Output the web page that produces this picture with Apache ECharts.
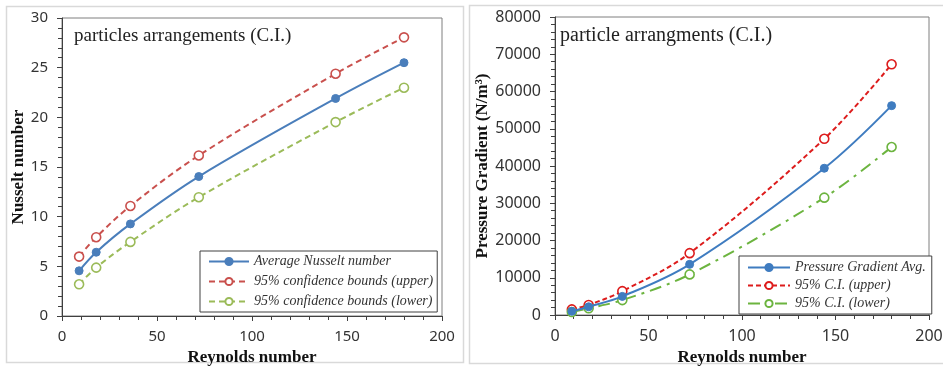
<!DOCTYPE html>
<html><head><meta charset="utf-8">
<script src="https://cdn.jsdelivr.net/npm/echarts@6/dist/echarts.min.js"></script>
<style>html,body{margin:0;padding:0;background:#fff}#c{width:943px;height:366px}</style>
</head><body><div id="c"></div>
<script>
const reynolds = [9, 18, 36, 72, 144, 180];
const nusseltAvg = [4.55, 6.42, 9.27, 14.04, 21.9, 25.5];
const nusseltUpper = [5.98, 7.93, 11.08, 16.16, 24.39, 28.05];
const nusseltLower = [3.19, 4.87, 7.46, 11.96, 19.52, 22.98];
const pressureAvg = [1000, 2200, 5000, 13600, 39400, 56200];
const pressureUpper = [1500, 2700, 6400, 16600, 47300, 67300];
const pressureLower = [800, 1800, 4000, 10900, 31500, 45100];
const leftNames = ['Average Nusselt number', '95% confidence bounds (upper)', '95% confidence bounds (lower)'];
const rightNames = ['Pressure Gradient Avg.', '95% C.I. (upper)', '95% C.I. (lower)'];

const pts = (xs, ys) => xs.map((x, i) => [x, ys[i]]);
const serif = 'Liberation Serif';
const sans = 'Noto Sans';

function xAx(gi, fs) {
  return {
    type: 'value', gridIndex: gi, min: 0, max: 200, interval: 50,
    name: 'Reynolds number', nameLocation: 'middle', nameGap: 30,
    nameTextStyle: { fontFamily: serif, fontWeight: 'bold', fontSize: 17, color: '#111' },
    axisLine: { show: true, lineStyle: { color: '#404040', width: 1 } },
    axisTick: { show: true, length: 5, lineStyle: { color: '#404040' } },
    minorTick: { show: true, splitNumber: 5, length: 4, lineStyle: { color: '#404040' } },
    splitLine: { show: false },
    axisLabel: { fontFamily: sans, fontSize: fs, color: '#333', margin: 13 }
  };
}
function yAx(gi, max, interval, name, gap, fs, margin) {
  return {
    type: 'value', gridIndex: gi, min: 0, max: max, interval: interval,
    name: name, nameLocation: 'middle', nameGap: gap,
    nameTextStyle: { fontFamily: serif, fontWeight: 'bold', fontSize: 17, color: '#111' },
    axisLine: { show: true, lineStyle: { color: '#404040', width: 1 } },
    axisTick: { show: true, length: 5, lineStyle: { color: '#404040' } },
    minorTick: { show: true, splitNumber: 5, length: 4, lineStyle: { color: '#404040' } },
    splitLine: { show: false },
    axisLabel: { fontFamily: sans, fontSize: fs, color: '#333', margin: margin, formatter: v => String(v) }
  };
}
function ser(name, gi, data, color, dash, filled, size) {
  return {
    name: name, type: 'line', xAxisIndex: gi, yAxisIndex: gi, data: data,
    smooth: 0.35, symbol: 'circle', symbolSize: size,
    lineStyle: { color: color, width: 2, type: dash },
    itemStyle: filled ? { color: color, borderColor: color, borderWidth: 1 }
                      : { color: '#fff', borderColor: color, borderWidth: 1.6 },
    z: filled ? 3 : 2
  };
}

const chart = echarts.init(document.getElementById('c'), null, { renderer: 'canvas' });
chart.setOption({
  animation: false,
  backgroundColor: '#fff',
  graphic: [
    { type: 'rect', shape: { x: 6.5, y: 6.5, width: 457, height: 356 }, style: { fill: 'none', stroke: '#d9d9d9', lineWidth: 1.5 }, z: -1 },
    { type: 'rect', shape: { x: 469.5, y: 5.5, width: 480, height: 358 }, style: { fill: 'none', stroke: '#d9d9d9', lineWidth: 1.5 }, z: -1 }
  ],
  title: [
    { text: 'particles arrangements (C.I.)', left: 74, top: 27, textStyle: { fontFamily: serif, fontWeight: 'normal', fontSize: 19, color: '#222' }, padding: 0 },
    { text: 'particle arrangments (C.I.)', left: 560, top: 26, textStyle: { fontFamily: serif, fontWeight: 'normal', fontSize: 20, color: '#222' }, padding: 0 }
  ],
  grid: [
    { left: 62, top: 18, width: 380, height: 298, show: true, borderColor: '#7f7f7f', borderWidth: 1, backgroundColor: 'transparent', containLabel: false, outerBoundsMode: 'none' },
    { left: 555, top: 17, width: 374, height: 298, show: true, borderColor: '#7f7f7f', borderWidth: 1, backgroundColor: 'transparent', containLabel: false, outerBoundsMode: 'none' }
  ],
  xAxis: [xAx(0, 15), xAx(1, 16)],
  yAxis: [yAx(0, 30, 5, 'Nusselt number', 35, 15, 14), yAx(1, 80000, 10000, 'Pressure Gradient (N/m³)', 64, 16, 14)],
  legend: [
    {
      data: leftNames, orient: 'vertical', left: 200, top: 251, padding: [3, 4, 3, 8],
      itemWidth: 40, itemHeight: 9, itemGap: 5,
      backgroundColor: '#fff', borderColor: '#404040', borderWidth: 1, borderRadius: 0,
      textStyle: { fontFamily: serif, fontStyle: 'italic', fontSize: 14, color: '#333', lineHeight: 15 }
    },
    {
      data: rightNames, orient: 'vertical', left: 739, top: 256, padding: [4, 6, 3, 8],
      itemWidth: 42, itemHeight: 9, itemGap: 3,
      backgroundColor: '#fff', borderColor: '#404040', borderWidth: 1, borderRadius: 0,
      textStyle: { fontFamily: serif, fontStyle: 'italic', fontSize: 14, color: '#333', lineHeight: 15 }
    }
  ],
  series: [
    ser(leftNames[0], 0, pts(reynolds, nusseltAvg), '#4a7ebb', 'solid', true, 8),
    ser(leftNames[1], 0, pts(reynolds, nusseltUpper), '#c9504d', [6, 4], false, 9),
    ser(leftNames[2], 0, pts(reynolds, nusseltLower), '#9bbb59', [6, 4], false, 9),
    ser(rightNames[0], 1, pts(reynolds, pressureAvg), '#3f7cc0', 'solid', true, 8),
    ser(rightNames[1], 1, pts(reynolds, pressureUpper), '#dd1c1c', [5, 3], false, 9),
    ser(rightNames[2], 1, pts(reynolds, pressureLower), '#6cb43f', [12, 6, 3, 6], false, 9)
  ]
});
</script></body></html>
